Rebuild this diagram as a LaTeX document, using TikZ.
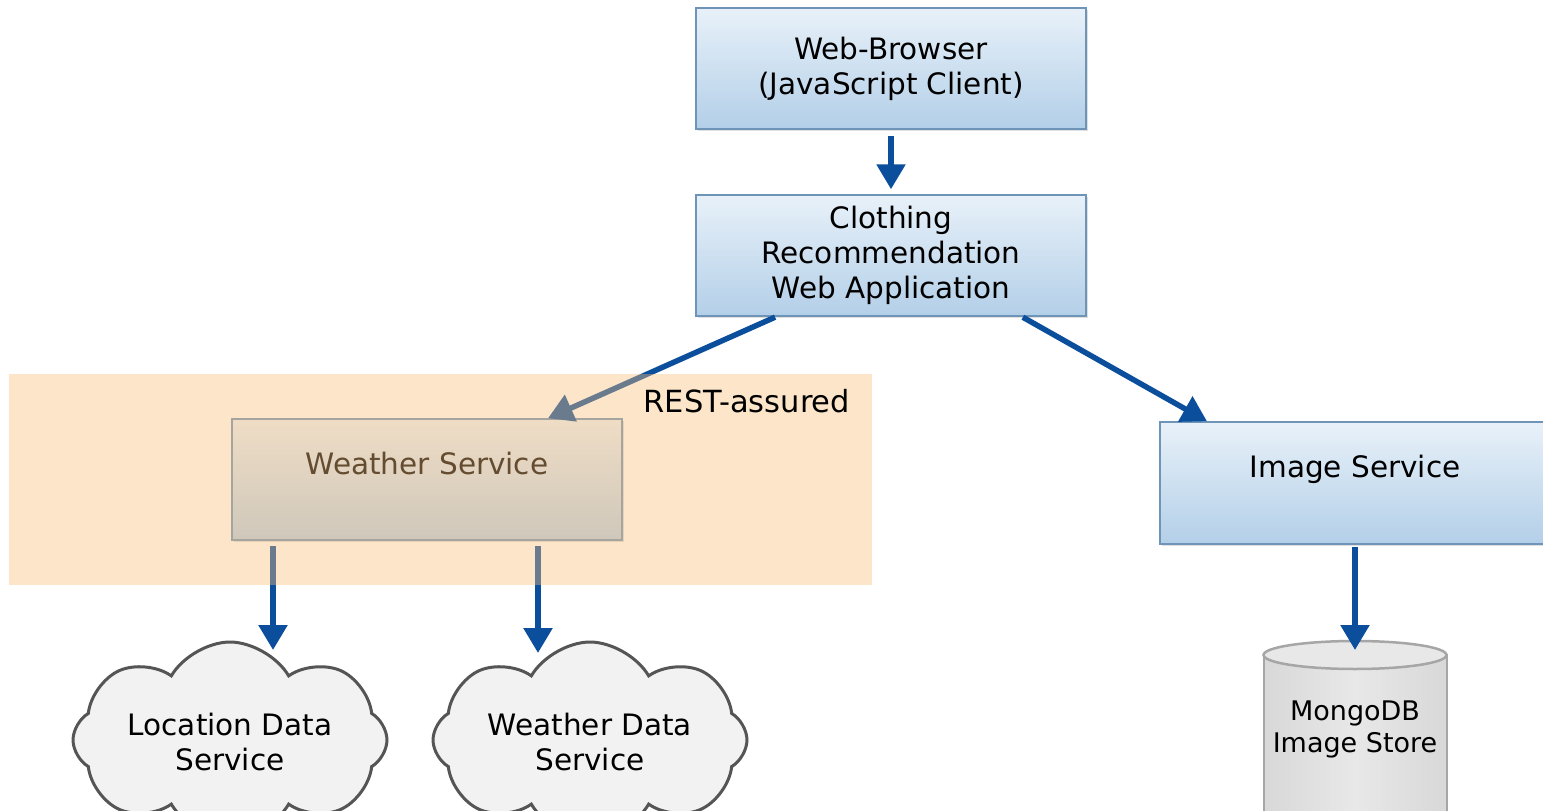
\documentclass[tikz,border=0pt]{standalone}
\usepackage{fontspec}
\setmainfont{DejaVu Sans}
\usetikzlibrary{arrows.meta,shapes.symbols,shadows,calc}
\definecolor{boxtop}{HTML}{E8F1F9}
\definecolor{boxbot}{HTML}{B3CFE8}
\definecolor{boxline}{HTML}{6E94B8}
\definecolor{arrblue}{HTML}{0B4F9C}
\definecolor{cloudfill}{HTML}{F2F2F2}
\definecolor{cloudline}{HTML}{555555}
\definecolor{cylfill}{HTML}{E8E8E8}
\definecolor{cylside}{HTML}{D8D8D8}
\definecolor{cylline}{HTML}{A6A6A6}
\definecolor{overlaycol}{HTML}{FABE78}
\begin{document}
\begin{tikzpicture}[x=1pt,y=-1pt,
  bluebox/.style={draw=boxline, line width=1.5pt, top color=boxtop, bottom color=boxbot,
    align=center, inner sep=0pt, minimum width=390pt, minimum height=121pt,
    font=\fontsize{29.5}{35}\selectfont,
    drop shadow={shadow xshift=2pt, shadow yshift=-2pt, opacity=0.25}},
  arr/.style={draw=arrblue, line width=5.5pt, -{Triangle[length=25pt,width=28pt]}},
  cloudshape/.style={cloud, cloud puffs=8, cloud puff arc=120, aspect=1.6,
    draw=cloudline, line width=3pt, fill=cloudfill, minimum width=314pt,
    minimum height=196pt, inner sep=0pt},
  txt/.style={align=center, font=\fontsize{29.5}{35}\selectfont}
]
\useasboundingbox (0,0) rectangle (1543,811);
\clip (0,0) rectangle (1543,811);
\fill[white] (0,0) rectangle (1543,811);

% clouds
\node[cloudshape, label={[txt, yshift=-2pt]center:Location Data\\Service}] (loc) at (230,740) {};
\node[cloudshape, label={[txt, yshift=-2pt]center:Weather Data\\Service}] (wds) at (590,740) {};

% cylinder
\path[draw=cylline, line width=2.5pt, left color=cylside, right color=cylside, middle color=cylfill]
  (1264,655) -- (1264,830) -- (1447,830) -- (1447,655) -- cycle;
\path[draw=cylline, line width=2.5pt, fill=cylfill] (1355,655) ellipse [x radius=91.5, y radius=14];
\node[align=center, font=\fontsize{27}{32}\selectfont] (mongo) at (1355,729) {MongoDB\\Image Store};
\coordinate (mtop) at (1355,650);

% boxes
\node[bluebox] (wb) at (891,68.5) {Web-Browser\\(JavaScript Client)};
\node[bluebox] (app) at (891,255.5) {Clothing\\Recommendation\\Web Application};
\node[bluebox, label={[txt, yshift=16pt]center:Weather Service}] (ws) at (427,479.5) {};
\node[bluebox, minimum height=122pt, label={[txt, yshift=14pt]center:Image Service}] (img) at (1355,483) {};

% arrows
\draw[arr, shorten <=6pt, shorten >=5pt] (wb.south) -- (app.north);
\draw[arr, shorten <=1pt] ([xshift=-115pt]app.south) -- ([xshift=121pt]ws.north);
\draw[arr, shorten <=1pt] ([xshift=131pt]app.south) -- ([xshift=-148pt]img.north);
\draw[arr, shorten <=2pt] (img.south) -- (mtop);
\coordinate (t1) at (273,650);
\coordinate (t2) at (538,653);
\draw[arr, shorten <=5pt] (ws.south -| t1) -- (t1);
\draw[arr, shorten <=5pt] (ws.south -| t2) -- (t2);

% translucent region
\fill[overlaycol, fill opacity=0.4] (9,374) rectangle (872,585);

\node[txt, font=\fontsize{30.5}{35}\selectfont, anchor=west] (rest) at (640,401) {REST-assured};
\end{tikzpicture}
\end{document}
